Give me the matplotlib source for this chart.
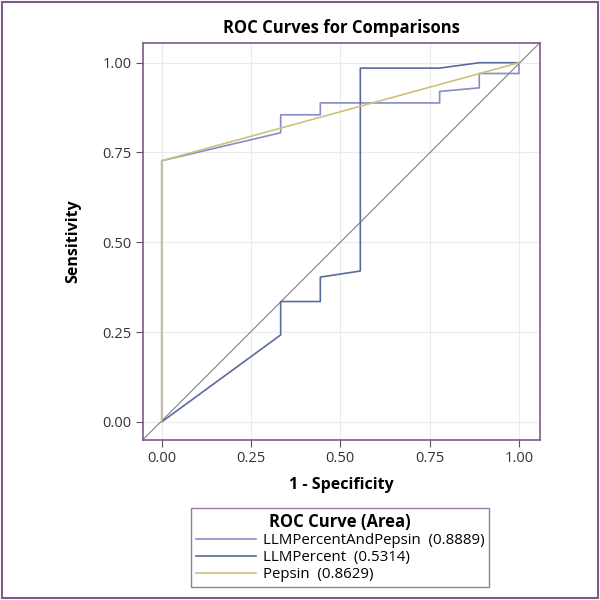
import matplotlib
matplotlib.use('Agg')
from matplotlib import pyplot as plt
from matplotlib.patches import Rectangle

plt.rcParams['font.family'] = ['Open Sans', 'DejaVu Sans']

# ROC points (1 - specificity, sensitivity)
both_x = [0.0, 0.0, 0.333, 0.333, 0.444, 0.444, 0.778, 0.778, 0.889, 0.889, 1.0, 1.0]
both_y = [0.0, 0.727, 0.805, 0.855, 0.855, 0.888, 0.888, 0.92, 0.93, 0.97, 0.97, 1.0]

llm_x = [0.0, 0.333, 0.333, 0.444, 0.444, 0.556, 0.556, 0.778, 0.889, 1.0]
llm_y = [0.0, 0.242, 0.335, 0.335, 0.403, 0.42, 0.985, 0.985, 1.0, 1.0]

pep_x = [0.0, 0.0, 1.0]
pep_y = [0.0, 0.727, 1.0]

names = ['LLMPercentAndPepsin', 'LLMPercent', 'Pepsin']
areas = [0.8889, 0.5314, 0.8629]
ticks = [0.0, 0.25, 0.5, 0.75, 1.0]

purple = '#7b5a8c'
fig = plt.figure(figsize=(6, 6), dpi=100)
# border round the whole picture
fig.patches.append(Rectangle((0.004, 0.004), 0.992, 0.992, transform=fig.transFigure,
                             fill=False, edgecolor=purple, linewidth=1.5))
ax = fig.add_axes([0.238, 0.267, 0.662, 0.662])

ax.plot([-0.053, 1.059], [-0.05, 1.056], color='#8c8c8c', lw=0.9)
l1, = ax.plot(both_x, both_y, color='#8a8ac8', lw=1.2)
l2, = ax.plot(llm_x, llm_y, color='#5c6a9c', lw=1.2)
l3, = ax.plot(pep_x, pep_y, color='#cdc27a', lw=1.2)

ax.set_xlim(-0.053, 1.059)
ax.set_ylim(-0.05, 1.056)
ax.set_xticks(ticks)
ax.set_yticks(ticks)
ax.set_xticklabels(['%.2f' % t for t in ticks])
ax.set_yticklabels(['%.2f' % t for t in ticks])
ax.grid(True, color='#ebebeb', lw=0.8)
ax.set_axisbelow(True)
ax.tick_params(colors='#555555', labelsize=10.5, length=5, width=0.8, pad=3,
               labelcolor='#333333')
for s in ax.spines.values():
    s.set_color(purple)
    s.set_linewidth(1.2)

ax.set_title('ROC Curves for Comparisons', fontsize=12, fontweight='bold', pad=7)
ax.set_xlabel('1 - Specificity', fontsize=11.5, fontweight='bold', labelpad=8)
ax.set_ylabel('Sensitivity', fontsize=11.5, fontweight='bold', labelpad=15)

labels = ['%s  (%.4f)' % (n, a) for n, a in zip(names, areas)]
leg = fig.legend([l1, l2, l3], labels, title='ROC Curve (Area)', loc='upper center',
                 bbox_to_anchor=(0.567, 0.153), fontsize=10.8, frameon=True, fancybox=False,
                 handlelength=4.0, borderpad=0.3, labelspacing=0.15, handletextpad=0.5,
                 borderaxespad=0)
leg.get_title().set_fontweight('bold')
leg.get_title().set_fontsize(12)
leg.get_frame().set_edgecolor(purple)
leg.get_frame().set_linewidth(1.0)
leg._legend_box.align = 'center'

fig.savefig('out.png', dpi=100)
